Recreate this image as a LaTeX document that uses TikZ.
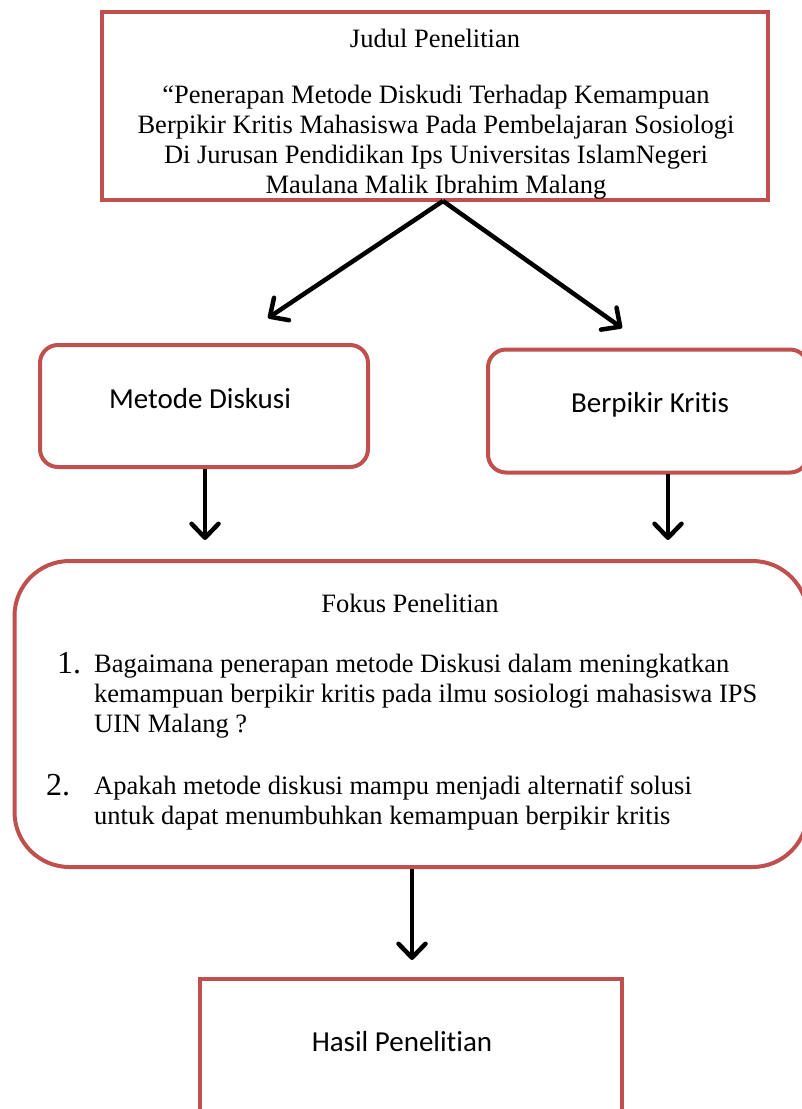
\documentclass[tikz,border=0pt]{standalone}
\usepackage{fontspec}
\setmainfont{Liberation Serif}
\newfontfamily\calibri[Ligatures=NoCommon]{Carlito}
\usepackage{tikz}
\usetikzlibrary{arrows.meta}
\definecolor{boxred}{RGB}{192,80,77}

\tikzset{
	redbox/.style={draw=boxred, line width=4pt, fill=white, inner sep=0pt},
	roundbox/.style={redbox, rounded corners=18pt},
	serif/.style={font=\fontsize{26.5}{30}\selectfont, align=center, inner sep=0pt},
	sans/.style={font=\calibri\fontsize{29}{34}\selectfont, anchor=base, inner sep=0pt},
	flowarrow/.style={line width=4.5pt, -{Straight Barb[length=14pt, width=27pt, round]}}
}

\begin{document}
\begin{tikzpicture}[x=1pt, y=-1pt]
			\useasboundingbox (0,0) rectangle (802,1109);
			\clip (0,0) rectangle (802,1109);
			% Boxes
			\node[redbox, minimum width=666pt, minimum height=188pt] (judul) at (435,106) {};
			\node[roundbox, minimum width=328pt, minimum height=122pt] (metode) at (204,406) {};
			\node[roundbox, minimum width=320pt, minimum height=123pt] (kritis) at (648,411) {};
			\node[redbox, rounded corners=55pt, minimum width=793pt, minimum height=306pt] (fokus) at (411,714) {};
			\node[redbox, minimum width=422pt, minimum height=200pt] (hasil) at (411,1079) {};
			% Texts (multi-line texts are placed at the baseline of their last line)
			\node[serif, anchor=base] (judultitle) at (435,47) {Judul Penelitian};
			\node[serif, anchor=base] (judultext) at (436,193) {``Penerapan Metode Diskudi Terhadap Kemampuan\\
				Berpikir Kritis Mahasiswa Pada Pembelajaran Sosiologi\\
				Di Jurusan Pendidikan Ips Universitas IslamNegeri\\
				Maulana Malik Ibrahim Malang};
			\node[sans] (metodetext) at (200,408) {Metode Diskusi};
			\node[sans] (kritistext) at (650,412) {Berpikir Kritis};
			\node[serif, anchor=base] (fokustitle) at (410,612) {Fokus Penelitian};
			\node[serif, anchor=base west, align=left] (item1) at (94,732) {Bagaimana penerapan metode Diskusi dalam meningkatkan\\
				kemampuan berpikir kritis pada ilmu sosiologi mahasiswa IPS\\
				UIN Malang ?};
			\node[serif, anchor=base west, align=left] (item2) at (94,824) {Apakah metode diskusi mampu menjadi alternatif solusi\\
				untuk dapat menumbuhkan kemampuan berpikir kritis};
			\node[serif, font=\fontsize{32}{36}\selectfont, anchor=base west] (num1) at (57,673) {1.};
			\node[serif, font=\fontsize{32}{36}\selectfont, anchor=base west] (num2) at (46,795) {2.};
			\node[sans] (hasiltext) at (402,1051) {Hasil Penelitian};
			% Arrows
			\coordinate (split) at (443,201);
			\coordinate (tipmetode) at (268,318);
			\coordinate (tipkritis) at (622,328);
			\coordinate (startkritis) at (668,474);
			\coordinate (endmetode) at (205,540);
			\coordinate (endkritis) at (668,540);
			\coordinate (endfokus) at (412,960);
			\draw[flowarrow] (split) -- (tipmetode);
			\draw[flowarrow] (split) -- (tipkritis);
			\draw[flowarrow] (metode.south -| endmetode) -- (endmetode);
			\draw[flowarrow] (startkritis) -- (endkritis);
			\draw[flowarrow] (fokus.south -| endfokus) -- (endfokus);
		\end{tikzpicture}
\end{document}
